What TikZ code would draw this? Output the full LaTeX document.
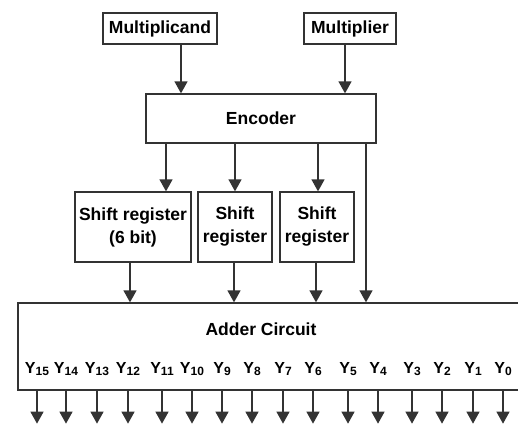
\documentclass[tikz,border=0pt]{standalone}
\usepackage{fontspec}
\setmainfont{Liberation Sans}
\usetikzlibrary{arrows.meta, calc}

\tikzset{
    blk/.style={draw=black!80, line width=1.3pt, inner sep=0pt, align=center,
        font=\bfseries\fontsize{17.5}{23}\selectfont},
    arr/.style={draw=black!80, line width=1.3pt, -{Triangle[length=12pt,width=13pt]}},
    ylbl/.style={font=\bfseries\fontsize{16}{16}\selectfont, inner sep=0pt},
}
\newcommand{\ybit}[1]{Y{\fontsize{12}{12}\selectfont\raisebox{-1.5pt}{#1}}}

\begin{document}
\begin{tikzpicture}[x=1pt, y=-1pt]
        \useasboundingbox (0,0) rectangle (518,424);

        % operands and encoder
        \node[blk, minimum width=114pt, minimum height=31pt] (mcand) at (160,28.5) {Multiplicand};
        \node[blk, minimum width=92pt, minimum height=31pt] (mplier) at (350,28.5) {Multiplier};
        \node[blk, minimum width=230pt, minimum height=49pt] (enc) at (261,118.5) {Encoder};

        \draw[arr] (mcand.south -| 181,0) -- (enc.north -| 181,0);
        \draw[arr] (mplier.south -| 345,0) -- (enc.north -| 345,0);

        % shift registers
        \node[blk, minimum width=116pt, minimum height=70pt] (sr1) at (133,227) {Shift register\\(6 bit)};
        \node[blk, minimum width=74pt, minimum height=70pt] (sr2) at (235,227) {Shift\\register};
        \node[blk, minimum width=74pt, minimum height=70pt] (sr3) at (317,227) {Shift\\register};

        \draw[arr] (enc.south -| 166,0) -- (sr1.north -| 166,0);
        \draw[arr] (enc.south -| 235,0) -- (sr2.north -| 235,0);
        \draw[arr] (enc.south -| 318,0) -- (sr3.north -| 318,0);

        % adder
        \node[blk, minimum width=504pt, minimum height=87pt] (add) at (270,346.5) {};
        \node[blk, draw=none] (addlbl) at (261,329) {Adder Circuit};

        \draw[arr] (sr1.south -| 130,0) -- (add.north -| 130,0);
        \draw[arr] (sr2.south -| 234,0) -- (add.north -| 234,0);
        \draw[arr] (sr3.south -| 316,0) -- (add.north -| 316,0);
        \draw[arr] (enc.south -| 366,0) -- (add.north -| 366,0);

        % product bits
        \foreach \x [count=\i from 0] in {37,66,97,128,162,192,222,252,283,313,348,378,412,442,473,503} {
            \pgfmathtruncatemacro{\b}{15-\i}
            \node[ylbl] (y\b) at (\x,369) {\ybit{\b}};
            \draw[arr] (y\b |- add.south) -- ++(0,33);
        }
\end{tikzpicture}
\end{document}
